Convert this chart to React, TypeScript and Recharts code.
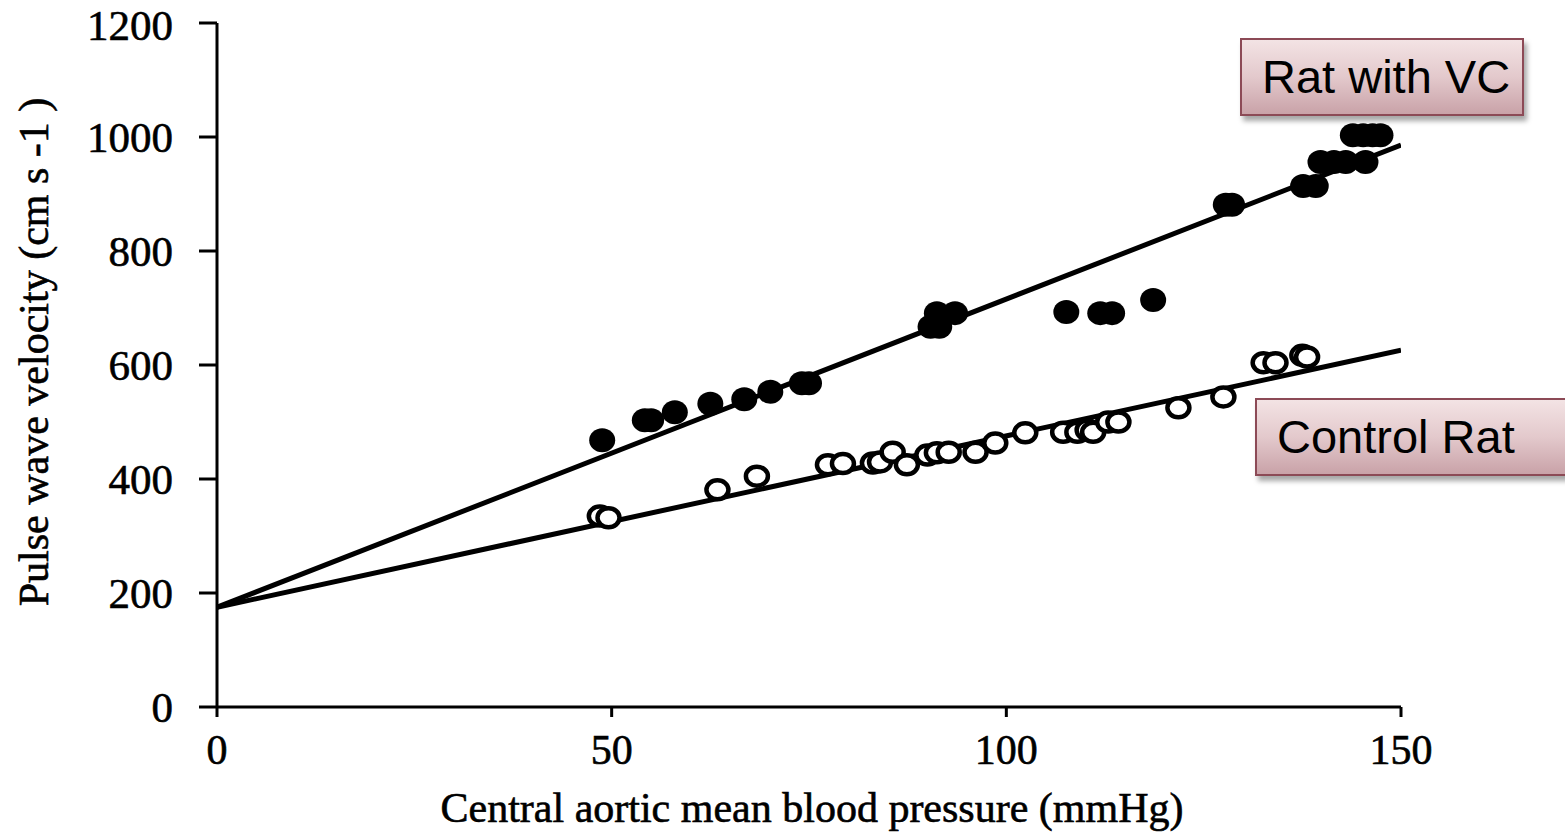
import React from "react";
import { ScatterChart, Scatter, XAxis, YAxis } from "recharts";

const xTicks = [0, 50, 100, 150];
const yTicks = [0, 200, 400, 600, 800, 1000, 1200];

const vcX = [48.8, 54.2, 55.0, 58.0, 62.5, 66.8, 70.1, 74.1, 75.0, 90.4, 91.5, 91.2, 93.5, 107.6, 111.9, 113.4, 118.6, 127.8, 128.6, 137.6, 139.2, 139.8, 141.5, 143.0, 145.5, 143.9, 145.2, 146.4, 147.4];
const vcY = [468, 503, 503, 517, 532, 540, 553, 568, 568, 667, 667, 691, 691, 693, 691, 691, 714, 881, 881, 914, 914, 956, 956, 956, 956, 1003, 1003, 1003, 1003];

const ctrlX = [48.5, 49.6, 63.4, 68.4, 77.4, 79.3, 83.1, 84.0, 85.6, 87.4, 90.0, 91.2, 92.7, 96.1, 98.6, 102.4, 107.2, 109.0, 110.3, 111.0, 112.9, 114.2, 121.8, 127.5, 132.6, 134.1, 137.5, 138.1];
const ctrlY = [335, 332, 381, 405, 425, 427, 428, 430, 447, 425, 442, 446, 447, 447, 463, 481, 482, 482, 486, 482, 500, 500, 525, 544, 604, 604, 617, 614];

const fitX = [0, 150];
const vcFitY = [175, 986];
const ctrlFitY = [175, 626];

const vcData = vcX.map((x, i) => ({ x, y: vcY[i] }));
const ctrlData = ctrlX.map((x, i) => ({ x, y: ctrlY[i] }));
const vcFit = fitX.map((x, i) => ({ x, y: vcFitY[i] }));
const ctrlFit = fitX.map((x, i) => ({ x, y: ctrlFitY[i] }));

const serif = "'Liberation Serif', 'Times New Roman', serif";
const textStyle = { fill: "#000", stroke: "#000", strokeWidth: 0.6, fontFamily: serif };

const FilledDot = (p: any) => <ellipse cx={p.cx} cy={p.cy} rx={13} ry={12} fill="#000" />;
const OpenDot = (p: any) => (
  <ellipse cx={p.cx} cy={p.cy} rx={11} ry={9.5} fill="#fff" stroke="#000" strokeWidth={4.5} />
);
const NoDot = () => <g />;

const boxStyle = (left: number, top: number, width: number): React.CSSProperties => ({
  position: "absolute",
  left,
  top,
  width,
  height: 78,
  boxSizing: "border-box",
  border: "2px solid #8c4a56",
  background: "linear-gradient(to bottom, #f3e3e4 0%, #e3c9cc 50%, #c9a2a8 100%)",
  boxShadow: "3px 5px 5px rgba(0,0,0,0.35)",
  fontFamily: "'Liberation Sans', Arial, sans-serif",
  fontSize: 47,
  color: "#000",
  lineHeight: "74px",
  whiteSpace: "nowrap",
});

export default function App() {
  return (
    <div style={{ position: "absolute", left: 0, top: 0, width: 1565, height: 833, background: "#fff", overflow: "hidden" }}>
      <ScatterChart width={1565} height={833} margin={{ top: 23, right: 164, bottom: 0, left: 0 }}>
        <XAxis
          type="number"
          dataKey="x"
          domain={[0, 150]}
          ticks={xTicks}
          allowDataOverflow
          height={126}
          axisLine={{ stroke: "#000", strokeWidth: 3 }}
          tickLine={{ stroke: "#000", strokeWidth: 3 }}
          tickSize={10}
          tickMargin={17}
          tick={{ ...textStyle, fontSize: 42 }}
          label={{
            content: () => (
              <text x={812} y={822} textAnchor="middle" style={{ ...textStyle, fontSize: 42 }}>
                Central aortic mean blood pressure (mmHg)
              </text>
            ),
          }}
        />
        <YAxis
          type="number"
          dataKey="y"
          domain={[0, 1200]}
          ticks={yTicks}
          allowDataOverflow
          width={217}
          axisLine={{ stroke: "#000", strokeWidth: 3 }}
          tickLine={{ stroke: "#000", strokeWidth: 3 }}
          tickSize={18}
          tickMargin={26}
          tick={{ ...textStyle, fontSize: 43 }}
          label={{
            content: () => (
              <text
                x={48}
                y={352}
                transform="rotate(-90 48 352)"
                textAnchor="middle"
                style={{ ...textStyle, fontSize: 42 }}
              >
                Pulse wave velocity (cm s -1 )
              </text>
            ),
          }}
        />
        <Scatter data={vcFit} line={{ stroke: "#000", strokeWidth: 5 }} shape={NoDot} isAnimationActive={false} />
        <Scatter data={ctrlFit} line={{ stroke: "#000", strokeWidth: 5 }} shape={NoDot} isAnimationActive={false} />
        <Scatter data={ctrlData} shape={OpenDot} isAnimationActive={false} />
        <Scatter data={vcData} shape={FilledDot} isAnimationActive={false} />
      </ScatterChart>
      <div style={{ ...boxStyle(1240, 38, 284), paddingLeft: 20 }}>Rat with VC</div>
      <div style={{ ...boxStyle(1255, 398, 320), paddingLeft: 20 }}>Control Rat</div>
    </div>
  );
}
